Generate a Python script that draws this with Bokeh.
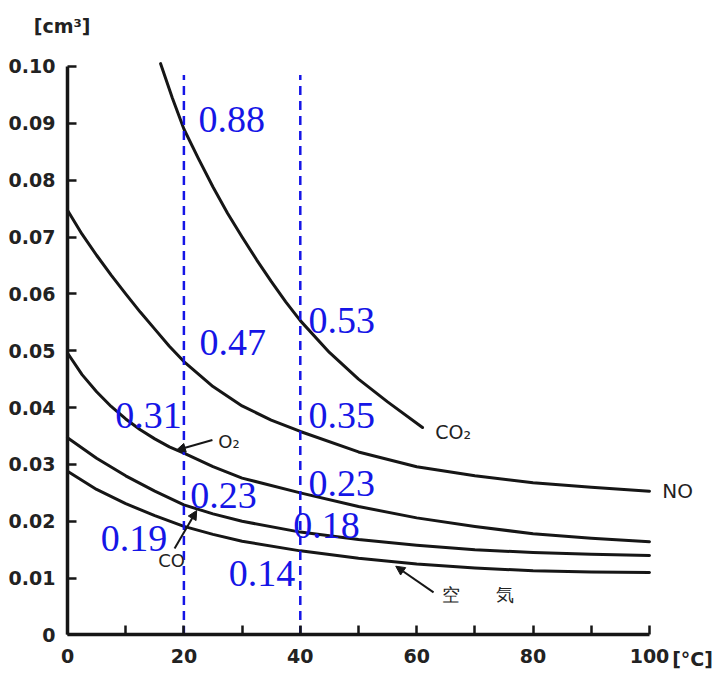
from bokeh.plotting import figure
from bokeh.models import Range1d, FixedTicker, Label, Arrow, NormalHead, ColumnDataSource, PrintfTickFormatter
from bokeh.core.properties import value
from bokeh.embed import file_html
from bokeh.resources import INLINE

# ---- data ----
co2_t = [16, 18, 20, 22.5, 25, 27.5, 30, 32.5, 35, 37.5, 40, 45, 50, 55, 61]
co2_v = [0.1005, 0.0945, 0.089, 0.0838, 0.0788, 0.0742, 0.0700, 0.0660, 0.0622, 0.0586, 0.0553,
         0.0497, 0.0450, 0.0410, 0.0365]

no_t = [0, 2.5, 5, 7.5, 10, 12.5, 15, 17.5, 20, 25, 30, 35, 40, 50, 60, 70, 80, 90, 100]
no_v = [0.0747, 0.0705, 0.0668, 0.0633, 0.0600, 0.0568, 0.0538, 0.0508, 0.0481, 0.0437, 0.0403,
        0.0378, 0.0358, 0.0322, 0.0296, 0.0280, 0.0268, 0.0260, 0.0253]

o2_t = [0, 2.5, 5, 7.5, 10, 12.5, 15, 17.5, 20, 25, 30, 40, 50, 60, 70, 80, 90, 100]
o2_v = [0.0496, 0.0458, 0.0428, 0.0402, 0.0380, 0.0361, 0.0345, 0.0331, 0.0320, 0.0296, 0.0276,
        0.0250, 0.0226, 0.0206, 0.0191, 0.0178, 0.0170, 0.0164]

co_t = [0, 5, 10, 15, 20, 25, 30, 40, 50, 60, 70, 80, 90, 100]
co_v = [0.0347, 0.0311, 0.0280, 0.0253, 0.0229, 0.0213, 0.0200, 0.0181, 0.0168, 0.0158, 0.0150,
        0.0145, 0.0142, 0.0140]

air_t = [0, 5, 10, 15, 20, 25, 30, 40, 50, 60, 70, 80, 90, 100]
air_v = [0.0288, 0.0256, 0.0231, 0.0210, 0.0191, 0.0177, 0.0165, 0.0148, 0.0135, 0.0125, 0.0118,
         0.0113, 0.0111, 0.0110]

x_ticks = [0, 10, 20, 30, 40, 50, 60, 70, 80, 90, 100]
y_ticks = [0, 0.01, 0.02, 0.03, 0.04, 0.05, 0.06, 0.07, 0.08, 0.09, 0.10]

guide_t = [20, 40]
guide_top = 0.0985

# blue ratio labels
ratio_text = ["0.88", "0.47", "0.53", "0.31", "0.35", "0.23", "0.23", "0.19", "0.18", "0.14"]
ratio_x = [22.5, 22.7, 41.4, 8.2, 41.4, 21.1, 41.4, 5.7, 38.8, 27.7]
ratio_y = [0.0907, 0.0514, 0.0553, 0.0386, 0.0386, 0.0245, 0.0266, 0.0170, 0.0193, 0.0109]

# curve name labels
name_text = ["CO₂", "NO", "O₂", "CO", "空　　気"]
name_x = [63.2, 102.2, 25.9, 15.6, 64.4]
name_y = [0.0357, 0.0254, 0.0341, 0.0131, 0.0071]
name_size = ["19px", "20px", "18px", "18px", "18px"]

INK = "#161616"

p = figure(width=719, height=676, output_backend="svg", toolbar_location=None,
           x_range=Range1d(-11.512, 112.03), y_range=Range1d(-0.0073, 0.10985),
           min_border_left=0, min_border_right=0, min_border_top=10, min_border_bottom=0)
p.outline_line_color = None
p.xgrid.visible = False
p.ygrid.visible = False
p.background_fill_color = "white"
p.border_fill_color = "white"

for ax in (p.xaxis[0], p.yaxis[0]):
    ax.fixed_location = 0
    ax.axis_line_width = 3.5
    ax.axis_line_color = INK
    ax.major_tick_line_width = 2.5
    ax.major_tick_line_color = INK
    ax.major_tick_in = 9
    ax.major_tick_out = 0
    ax.minor_tick_line_color = None
    ax.major_label_text_font = "DejaVu Sans"
    ax.major_label_text_font_style = "bold"
    ax.major_label_text_font_size = "19px"
    ax.major_label_text_color = "#222222"

p.xaxis[0].ticker = FixedTicker(ticks=x_ticks)
p.xaxis[0].bounds = (0, 100)
p.xaxis[0].major_label_standoff = 14
p.xaxis[0].major_label_overrides = {10: "", 30: "", 50: "", 70: "", 90: ""}

p.yaxis[0].ticker = FixedTicker(ticks=y_ticks)
p.yaxis[0].bounds = (0, 0.10)
p.yaxis[0].major_label_standoff = 12
p.yaxis[0].formatter = PrintfTickFormatter(format="%.2f")
p.yaxis[0].major_label_overrides = {0: "0"}

# curves
for t, v in [(co2_t, co2_v), (no_t, no_v), (o2_t, o2_v), (co_t, co_v), (air_t, air_v)]:
    p.line(t, v, line_color=INK, line_width=3, line_join="round", line_cap="round")

# blue dashed guides
p.segment(x0=guide_t, y0=[0, 0], x1=guide_t, y1=[guide_top, guide_top],
          line_color="#1515e6", line_width=2.5, line_dash="9 6")

# blue labels
p.text(x=ratio_x, y=ratio_y, text=ratio_text, text_font=value("Liberation Serif"),
       text_font_size="38px", text_color="#1515e6", text_baseline="middle", text_align="left")

# curve names
src = ColumnDataSource(dict(x=name_x, y=name_y, text=name_text, size=name_size))
p.text(x="x", y="y", text="text", text_font_size="size", source=src,
       text_font=value("DejaVu Sans"), text_color="#222222",
       text_baseline="middle", text_align="left")

# arrows
for (xs, ys, xe, ye) in [(24.9, 0.0343, 18.7, 0.0325),
                         (18.4, 0.0152, 22.2, 0.0219),
                         (62.9, 0.0075, 56.4, 0.0121)]:
    p.add_layout(Arrow(x_start=xs, y_start=ys, x_end=xe, y_end=ye, line_color=INK, line_width=2,
                       end=NormalHead(size=9, fill_color=INK, line_color=INK)))

# unit labels
p.add_layout(Label(x=-5.8, y=0.1072, text="[cm³]", text_font="DejaVu Sans", text_font_style="bold",
                   text_font_size="19px", text_color="#222222", text_baseline="middle", text_align="left"))
p.add_layout(Label(x=103.9, y=-0.0043, text="[°C]", text_font="DejaVu Sans", text_font_style="bold",
                   text_font_size="19px", text_color="#222222", text_baseline="middle", text_align="left"))

open("out.html", "w").write(file_html(p, INLINE))
